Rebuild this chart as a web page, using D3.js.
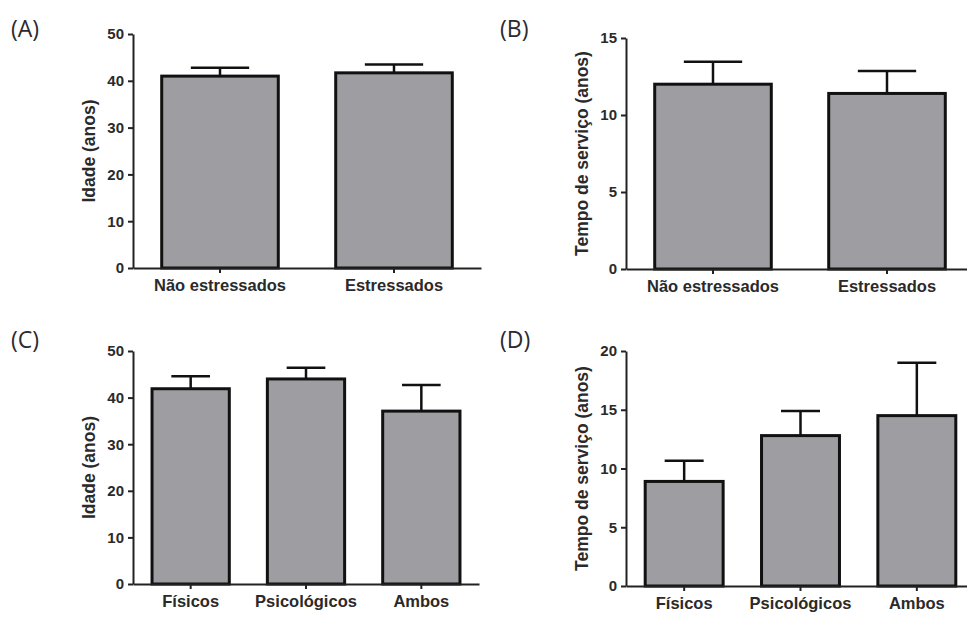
<meta charset="utf-8">
<body></body>
<script src="https://d3js.org/d3.v7.min.js"></script>
<script>
// data
var groupsAB = ["Não estressados", "Estressados"];
var groupsCD = ["Físicos", "Psicológicos", "Ambos"];

var idadeAB = [41.0, 41.7];
var idadeABerr = [1.8, 1.8];
var tempoAB = [12.0, 11.4];
var tempoABerr = [1.45, 1.45];
var idadeCD = [41.9, 44.0, 37.1];
var idadeCDerr = [2.7, 2.4, 5.6];
var tempoCD = [8.9, 12.8, 14.5];
var tempoCDerr = [1.75, 2.1, 4.5];

var yTicksIdade = [0, 10, 20, 30, 40, 50];
var yTicksTempoB = [0, 5, 10, 15];
var yTicksTempoD = [0, 5, 10, 15, 20];

var W = 967, H = 617;
var svg = d3.select("body").append("svg")
  .attr("width", W)
  .attr("height", H);

var panels = [
  { tag: "(A)", tx: 11, ty: 37, cats: groupsAB, vals: idadeAB, errs: idadeABerr, max: 50, ticks: yTicksIdade,
    ylab: "Idade (anos)", x0: 133, x1: 481, y0: 268, y1: 34, labX: 89 },
  { tag: "(B)", tx: 500, ty: 37, cats: groupsAB, vals: tempoAB, errs: tempoABerr, max: 15, ticks: yTicksTempoB,
    ylab: "Tempo de serviço (anos)", x0: 626, x1: 974, y0: 269, y1: 38, labX: 582 },
  { tag: "(C)", tx: 11, ty: 348, cats: groupsCD, vals: idadeCD, errs: idadeCDerr, max: 50, ticks: yTicksIdade,
    ylab: "Idade (anos)", x0: 133, x1: 479, y0: 584, y1: 351, labX: 89 },
  { tag: "(D)", tx: 500, ty: 348, cats: groupsCD, vals: tempoCD, errs: tempoCDerr, max: 20, ticks: yTicksTempoD,
    ylab: "Tempo de serviço (anos)", x0: 626, x1: 975, y0: 586, y1: 351, labX: 582 }
];

panels.forEach(function(p) {
  var g = svg.append("g");

  var x = d3.scaleBand().domain(p.cats).range([p.x0, p.x1]).paddingInner(0.33).paddingOuter(0.165);
  var y = d3.scaleLinear().domain([0, p.max]).range([p.y0, p.y1]);

  g.append("text")
    .attr("class", "tag")
    .attr("x", p.tx).attr("y", p.ty)
    .text(p.tag);

  var data = p.cats.map(function(c, i) { return { c: c, v: p.vals[i], e: p.errs[i] }; });

  // error bars (behind the bars)
  var eb = g.selectAll(".err").data(data).enter().append("g").attr("class", "err");
  eb.append("line")
    .attr("x1", function(d) { return x(d.c) + x.bandwidth() / 2; })
    .attr("x2", function(d) { return x(d.c) + x.bandwidth() / 2; })
    .attr("y1", function(d) { return y(d.v); })
    .attr("y2", function(d) { return y(d.v + d.e); });
  eb.append("line")
    .attr("x1", function(d) { return x(d.c) + x.bandwidth() * 0.25; })
    .attr("x2", function(d) { return x(d.c) + x.bandwidth() * 0.75; })
    .attr("y1", function(d) { return y(d.v + d.e); })
    .attr("y2", function(d) { return y(d.v + d.e); });

  g.selectAll(".bar").data(data).enter().append("rect")
    .attr("class", "bar")
    .attr("x", function(d) { return x(d.c); })
    .attr("y", function(d) { return y(d.v); })
    .attr("width", x.bandwidth())
    .attr("height", function(d) { return y(0) - y(d.v); });

  g.append("g")
    .attr("class", "axis")
    .attr("transform", "translate(" + p.x0 + ",0)")
    .call(d3.axisLeft(y).tickValues(p.ticks).tickSize(5).tickPadding(4).tickSizeOuter(0));

  g.append("g")
    .attr("class", "axis xaxis")
    .attr("transform", "translate(0," + p.y0 + ")")
    .call(d3.axisBottom(x).tickSize(5).tickPadding(6).tickSizeOuter(0));

  g.append("text")
    .attr("class", "ylab")
    .attr("transform", "translate(" + p.labX + "," + ((p.y0 + p.y1) / 2) + ") rotate(-90)")
    .attr("text-anchor", "middle")
    .attr("dy", "0.35em")
    .text(p.ylab);
});
</script>
<style>
body { margin: 0; background: #fff; }
svg text { font-family: "Liberation Sans", Arial, sans-serif; font-weight: bold; fill: #222; }
.tag { font-family: "Open Sans", sans-serif; font-weight: normal; font-size: 23px; fill: #2a2a30; }
.bar { fill: #9e9ea2; stroke: #111; stroke-width: 3px; }
.err line { stroke: #111; stroke-width: 2.5px; }
.axis path, .axis line { stroke: #222; stroke-width: 2px; }
.axis text { font-size: 15px; fill: #2a2a2a; }
.xaxis text { font-size: 16.5px; }
.ylab { font-size: 17.5px; fill: #2a2a2a; }
</style>
